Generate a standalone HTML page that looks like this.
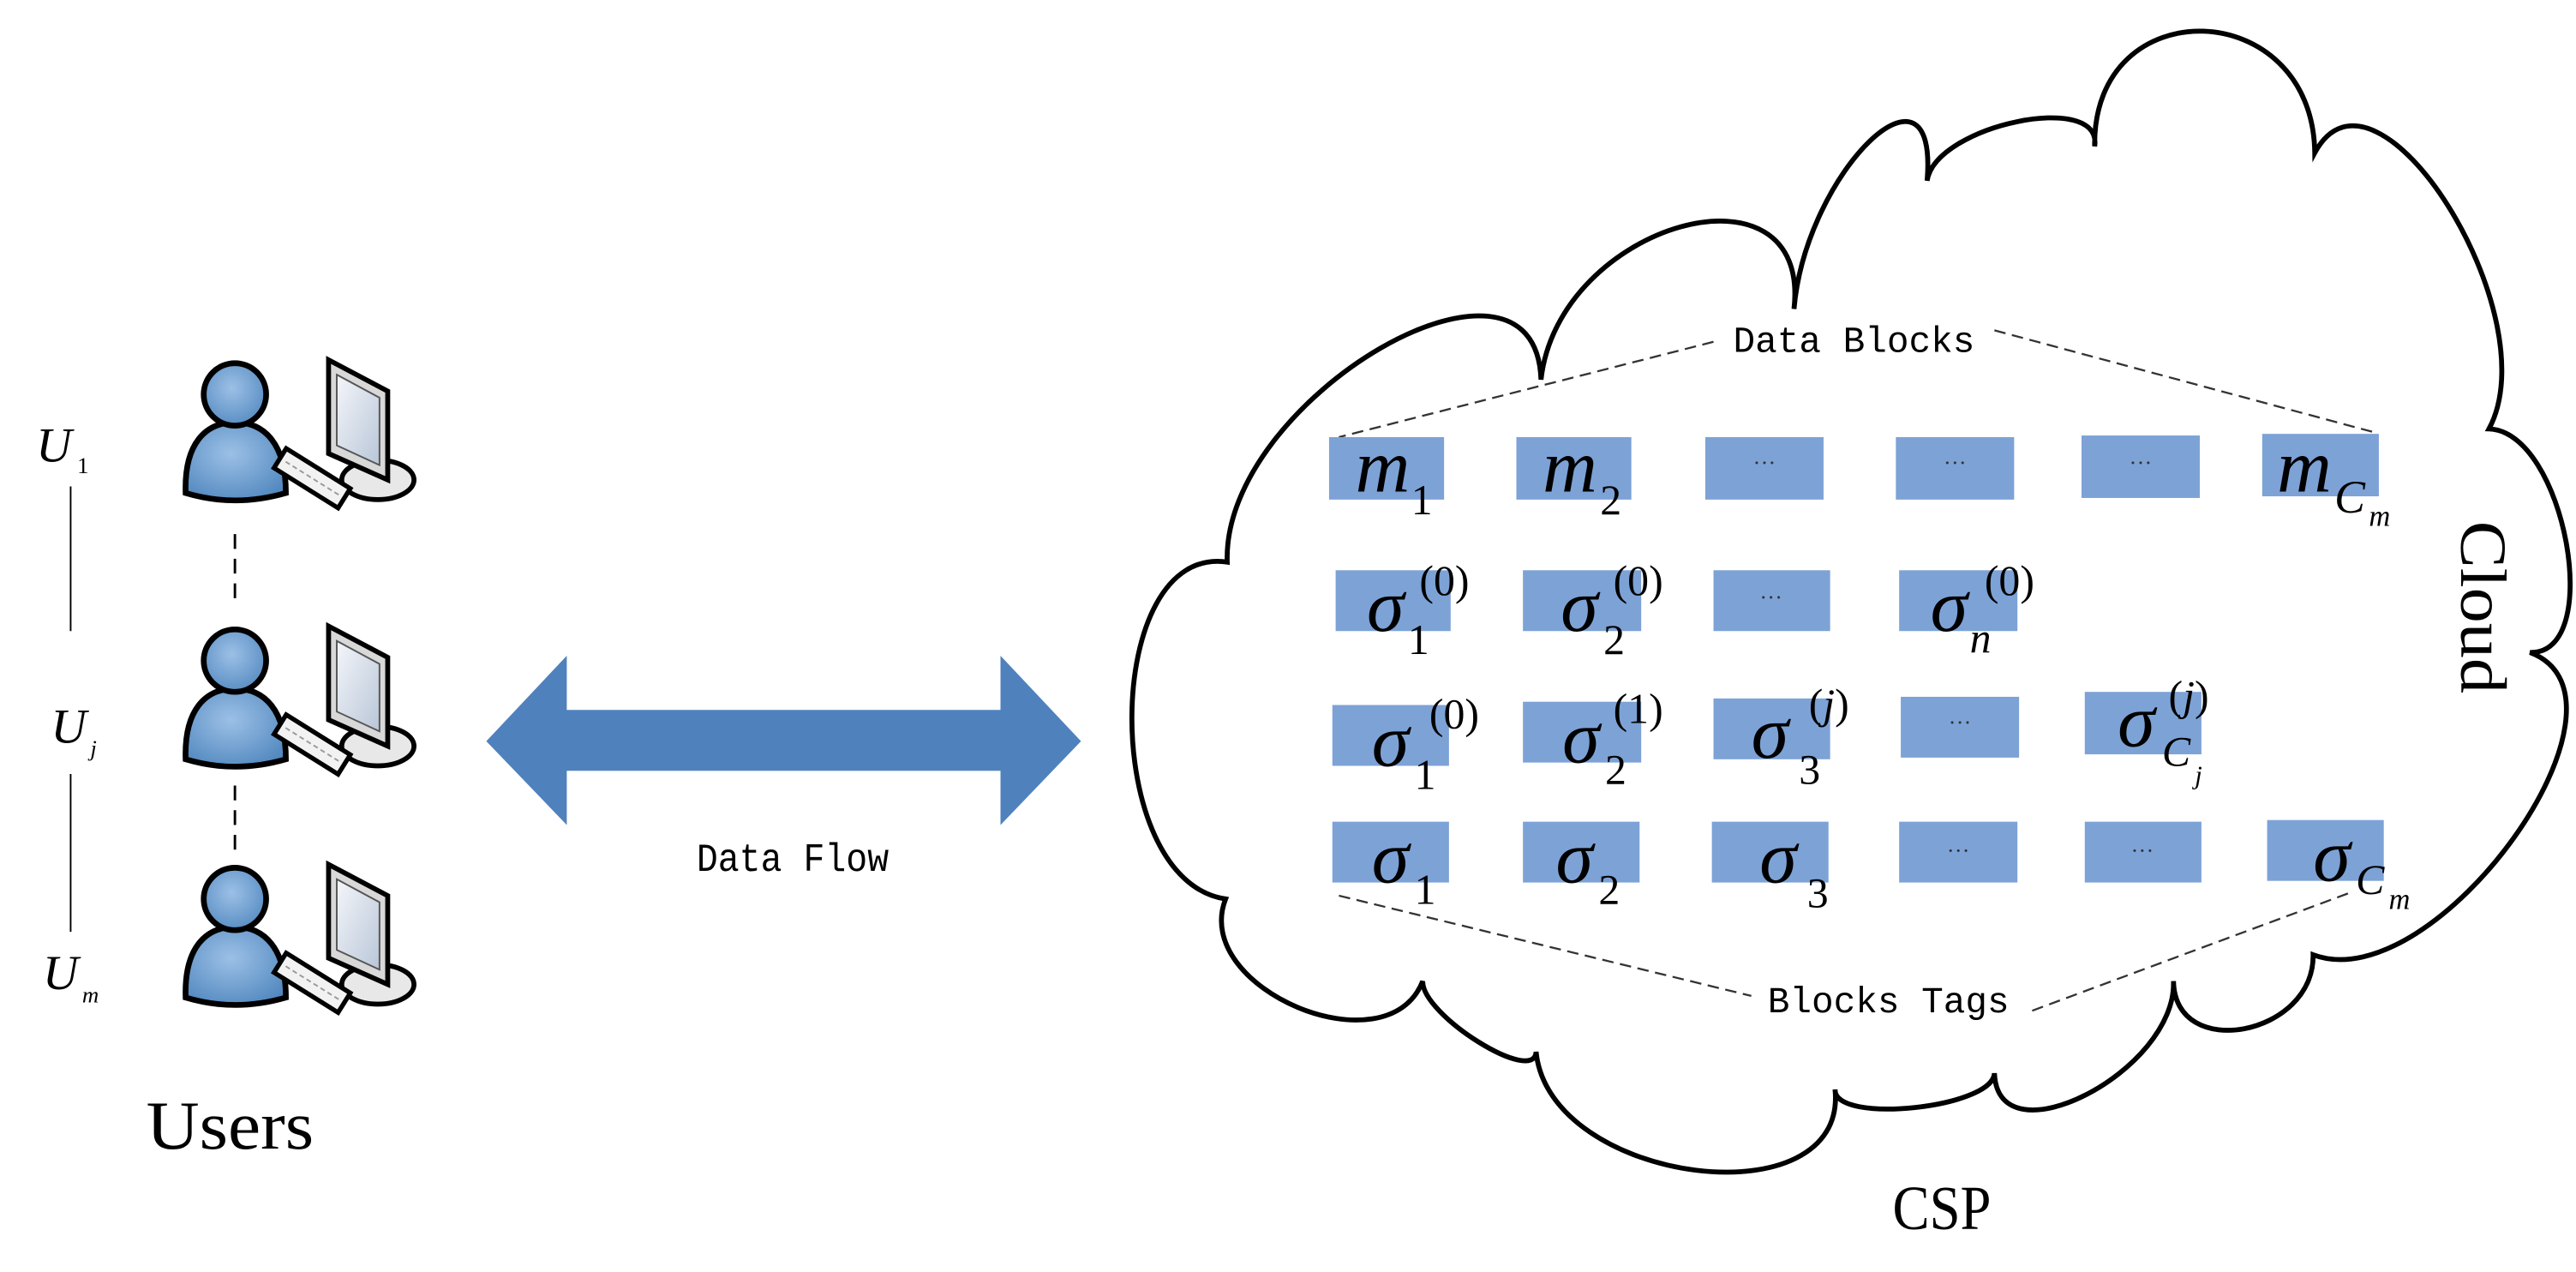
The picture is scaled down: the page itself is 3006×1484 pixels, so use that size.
<!DOCTYPE html>
<html><head><meta charset="utf-8">
<style>html,body{margin:0;padding:0;background:#fff}svg{display:block}</style>
</head><body>
<svg id="s" width="3006" height="1484" viewBox="0 0 1568 774" preserveAspectRatio="none" xmlns="http://www.w3.org/2000/svg">
<defs>
<radialGradient id="pg" cx="0.45" cy="0.4" r="0.7"><stop offset="0" stop-color="#9cc0e6"/><stop offset="1" stop-color="#4f86be"/></radialGradient>
<linearGradient id="sg" x1="0" y1="0" x2="1" y2="1"><stop offset="0" stop-color="#f4f6fa"/><stop offset="1" stop-color="#b9c6d8"/></linearGradient>
<g id="user">
  <ellipse cx="230" cy="292" rx="22" ry="12" fill="#e8e8e8" stroke="#000" stroke-width="3"/>
  <polygon points="200,219 236,238 236,292 200,276" fill="#d8d8d8" stroke="#000" stroke-width="3"/>
  <polygon points="205,228 231,242 231,283 205,271" fill="url(#sg)" stroke="#555" stroke-width="1"/>
  <path d="M113,300 C112,270 125,257 143,257 C161,257 174,270 174,300 Q143,309 113,300 Z" fill="url(#pg)" stroke="#000" stroke-width="3.5"/>
  <circle cx="143" cy="240" r="19" fill="url(#pg)" stroke="#000" stroke-width="3.5"/>
  <g transform="rotate(32 190 291)"><rect x="167" y="284" width="46" height="14" fill="#f2f2f2" stroke="#000" stroke-width="2.8"/><line x1="171" y1="291" x2="209" y2="291" stroke="#999" stroke-width="1" stroke-dasharray="3 2"/></g>
</g>
</defs>

<use href="#user"/>
<use href="#user" y="162"/>
<use href="#user" y="307"/>
<line x1="143" y1="325" x2="143" y2="370" stroke="#000" stroke-width="1.5" stroke-dasharray="9 6"/>
<line x1="143" y1="478" x2="143" y2="521" stroke="#000" stroke-width="1.5" stroke-dasharray="9 6"/>
<line x1="43" y1="296" x2="43" y2="384" stroke="#000" stroke-width="1"/>
<line x1="43" y1="471" x2="43" y2="567" stroke="#000" stroke-width="1"/>
<g font-family="Liberation Serif, serif" font-style="italic" fill="#000">
<text x="22" y="281" font-size="30">U</text><text x="47" y="288" font-size="14" font-style="normal">1</text>
<text x="31" y="452" font-size="30">U</text><text x="55" y="460" font-size="14">j</text>
<text x="26" y="602" font-size="30">U</text><text x="50" y="610" font-size="14">m</text>
</g>
<text x="89" y="699" font-family="Liberation Serif, serif" font-size="42" textLength="102" lengthAdjust="spacingAndGlyphs">Users</text>

<polygon points="296,451 345,399 345,432 609,432 609,399 658,451 609,502 609,469 345,469 345,502" fill="#4f81bd"/>
<text x="424" y="530" font-family="Liberation Mono, monospace" font-size="24" textLength="117" lengthAdjust="spacingAndGlyphs">Data Flow</text>

<path id="cloud" d="" fill="none" stroke="#000" stroke-width="3"/>

<g stroke="#333" stroke-width="1.2" stroke-dasharray="7 4" fill="none">
<line x1="1043" y1="208" x2="815" y2="266"/>
<line x1="1214" y1="201" x2="1445" y2="263"/>
<line x1="815" y1="545" x2="1066" y2="606"/>
<line x1="1237" y1="615" x2="1431" y2="543"/>
</g>
<text x="1055" y="214" font-family="Liberation Mono, monospace" font-size="22" textLength="147" lengthAdjust="spacingAndGlyphs">Data Blocks</text>
<text x="1076" y="616" font-family="Liberation Mono, monospace" font-size="22" textLength="147" lengthAdjust="spacingAndGlyphs">Blocks Tags</text>
<text x="1152" y="748" font-family="Liberation Serif, serif" font-size="38" textLength="60" lengthAdjust="spacingAndGlyphs">CSP</text>
<text transform="translate(1498,317) rotate(90)" x="0" y="0" font-family="Liberation Serif, serif" font-size="40" textLength="105" lengthAdjust="spacingAndGlyphs">Cloud</text>

<g fill="#7da2d6">
<rect x="809" y="266" width="70" height="38"/><rect x="923" y="266" width="70" height="38"/><rect x="1038" y="266" width="72" height="38"/><rect x="1154" y="266" width="72" height="38"/><rect x="1267" y="265" width="72" height="38"/><rect x="1377" y="264" width="71" height="38"/>
<rect x="813" y="347" width="70" height="37"/><rect x="927" y="347" width="72" height="37"/><rect x="1043" y="347" width="71" height="37"/><rect x="1156" y="347" width="72" height="37"/>
<rect x="811" y="429" width="71" height="37"/><rect x="927" y="427" width="72" height="37"/><rect x="1043" y="425" width="71" height="37"/><rect x="1157" y="424" width="72" height="37"/><rect x="1269" y="421" width="71" height="38"/>
<rect x="811" y="500" width="71" height="37"/><rect x="927" y="500" width="71" height="37"/><rect x="1042" y="500" width="71" height="37"/><rect x="1156" y="500" width="72" height="37"/><rect x="1269" y="500" width="71" height="37"/><rect x="1380" y="499" width="71" height="37"/>
</g>
<g font-family="Liberation Serif, serif" font-size="14" fill="#333" text-anchor="middle">
<text x="1074" y="286">···</text><text x="1190" y="286">···</text><text x="1303" y="286">···</text>
<text x="1078" y="368">···</text>
<text x="1193" y="444">···</text>
<text x="1192" y="522">···</text><text x="1304" y="522">···</text>
</g>
<g font-family="Liberation Serif, serif" font-style="italic" fill="#000">
<text x="825" y="299" font-size="46">m</text><text x="859" y="313" font-size="26" font-style="normal">1</text>
<text x="939" y="299" font-size="46">m</text><text x="974" y="313" font-size="26" font-style="normal">2</text>
<text x="1386" y="299" font-size="46">m</text><text x="1421" y="312" font-size="28">C</text><text x="1442" y="320" font-size="18">m</text>
<text x="832" y="384" font-size="46">σ</text><text x="857" y="398" font-size="26" font-style="normal">1</text><text x="864" y="362" font-size="26" font-style="normal">(0)</text>
<text x="950" y="384" font-size="46">σ</text><text x="976" y="398" font-size="26" font-style="normal">2</text><text x="982" y="362" font-size="26" font-style="normal">(0)</text>
<text x="1175" y="384" font-size="46">σ</text><text x="1199" y="397" font-size="26">n</text><text x="1208" y="362" font-size="26" font-style="normal">(0)</text>
<text x="835" y="466" font-size="46">σ</text><text x="861" y="480" font-size="26" font-style="normal">1</text><text x="870" y="443" font-size="26" font-style="normal">(0)</text>
<text x="951" y="464" font-size="46">σ</text><text x="977" y="477" font-size="26" font-style="normal">2</text><text x="982" y="440" font-size="26" font-style="normal">(1)</text>
<text x="1066" y="461" font-size="46">σ</text><text x="1095" y="477" font-size="26" font-style="normal">3</text><text x="1101" y="437" font-size="26"><tspan font-style="normal">(</tspan>j<tspan font-style="normal">)</tspan></text>
<text x="1289" y="454" font-size="46">σ</text><text x="1316" y="466" font-size="26">C</text><text x="1336" y="477" font-size="16">j</text><text x="1320" y="432" font-size="26"><tspan font-style="normal">(</tspan>j<tspan font-style="normal">)</tspan></text>
<text x="835" y="537" font-size="46">σ</text><text x="861" y="550" font-size="26" font-style="normal">1</text>
<text x="947" y="537" font-size="46">σ</text><text x="973" y="550" font-size="26" font-style="normal">2</text>
<text x="1071" y="537" font-size="46">σ</text><text x="1100" y="552" font-size="26" font-style="normal">3</text>
<text x="1408" y="536" font-size="46">σ</text><text x="1434" y="544" font-size="26">C</text><text x="1454" y="553" font-size="18">m</text>
</g>
</svg>
<script>
(function(){
var D=[[746,547],[747,342],[938,231],[1092,188],[1173,110],[1275,89],[1409,93],[1515,261],[1540,397],[1408,581],[1323,597],[1214,653],[1117,663],[935,640],[866,597]];
var X=[[689,436],[840,212],[1023,138],[1138,86],[1228,74],[1341,19],[1490,125],[1562,330],[1530,510],[1366,626],[1270,666],[1165,674],[1032,712],[900,634],[790,613]];
var d="M"+D[0][0]+","+D[0][1];
for(var i=0;i<D.length;i++){
 var a=D[i],b=D[(i+1)%D.length],x=X[i];
 var mx=(a[0]+b[0])/2,my=(a[1]+b[1])/2;
 var dx=(x[0]-mx)*4/3,dy=(x[1]-my)*4/3;
 d+=" C"+(a[0]+dx).toFixed(1)+","+(a[1]+dy).toFixed(1)+" "+(b[0]+dx).toFixed(1)+","+(b[1]+dy).toFixed(1)+" "+b[0]+","+b[1];
}
document.getElementById("cloud").setAttribute("d",d+"Z");
})();
</script>
</body></html>
